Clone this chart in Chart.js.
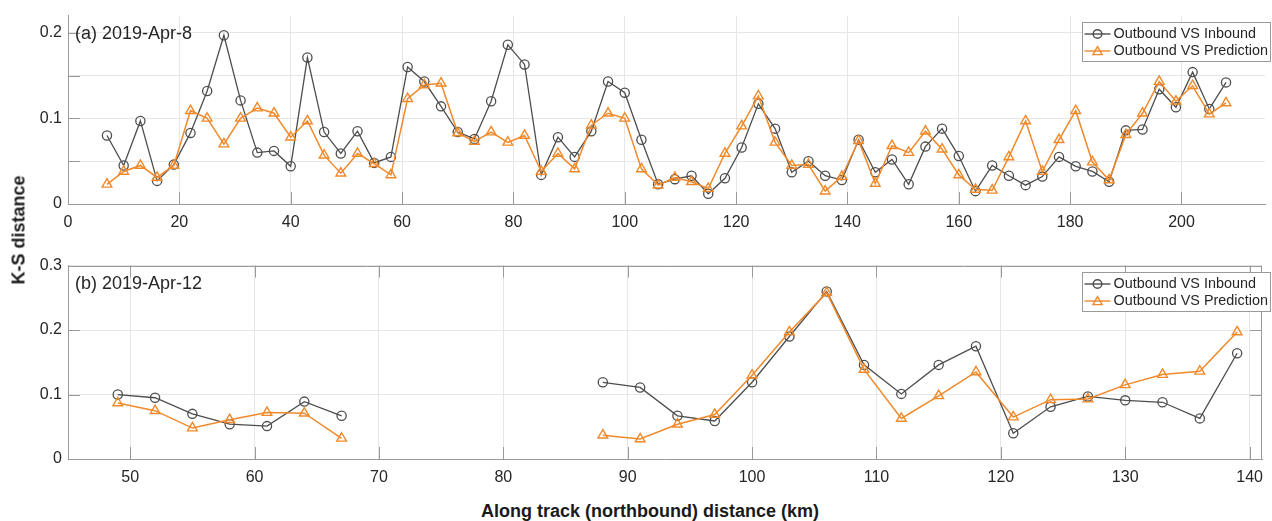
<!DOCTYPE html>
<html>
<head>
<meta charset="utf-8">
<script src="https://cdn.jsdelivr.net/npm/chart.js@4.4.1/dist/chart.umd.min.js"></script>
<style>
  html, body { margin: 0; padding: 0; background: #ffffff; }
  #wrap { position: relative; width: 1272px; height: 521px; overflow: hidden; font-family: "Liberation Sans", Arial, Helvetica, sans-serif; }
  canvas { position: absolute; left: 0; }
  #cA { top: 0; }
  #cB { top: 250px; }
  .ytitle { position: absolute; left: 19px; top: 230px; transform: translate(-50%, -50%) rotate(-90deg); font-weight: bold; font-size: 18px; color: #1a1a1a; white-space: nowrap; }
  .xtitle { position: absolute; left: 650px; top: 511px; transform: translate(-50%, -50%); font-weight: bold; font-size: 18px; color: #1a1a1a; white-space: nowrap; }
</style>
</head>
<body>
<div id="wrap">
  <canvas id="cA" width="1272" height="240"></canvas>
  <canvas id="cB" width="1272" height="245"></canvas>
  <div class="ytitle">K-S distance</div>
  <div class="xtitle">Along track (northbound) distance (km)</div>
</div>
<script>
// ---- Panel (a): 2019-Apr-8 ----
const distA = [7, 10, 13, 16, 19, 22, 25, 28, 31, 34, 37, 40, 43, 46, 49, 52, 55, 58, 61, 64,
  67, 70, 73, 76, 79, 82, 85, 88, 91, 94, 97, 100, 103, 106, 109, 112, 115, 118, 121, 124,
  127, 130, 133, 136, 139, 142, 145, 148, 151, 154, 157, 160, 163, 166, 169, 172, 175, 178, 181, 184,
  187, 190, 193, 196, 199, 202, 205, 208];
const inboundA = [0.080, 0.045, 0.097, 0.027, 0.046, 0.083, 0.132, 0.197, 0.121, 0.060,
  0.062, 0.044, 0.171, 0.084, 0.059, 0.085, 0.048, 0.055, 0.160, 0.143,
  0.114, 0.084, 0.076, 0.120, 0.186, 0.163, 0.034, 0.078, 0.055, 0.085,
  0.143, 0.130, 0.075, 0.023, 0.029, 0.033, 0.012, 0.030, 0.066, 0.117,
  0.088, 0.037, 0.050, 0.033, 0.028, 0.075, 0.037, 0.052, 0.023, 0.067,
  0.088, 0.056, 0.015, 0.045, 0.033, 0.022, 0.032, 0.055, 0.044, 0.038,
  0.026, 0.086, 0.087, 0.134, 0.113, 0.154, 0.111, 0.142];
const predictionA = [0.023, 0.038, 0.045, 0.031, 0.045, 0.109, 0.100, 0.070, 0.100, 0.112,
  0.106, 0.078, 0.097, 0.057, 0.036, 0.059, 0.047, 0.034, 0.123, 0.139,
  0.141, 0.083, 0.073, 0.084, 0.072, 0.080, 0.038, 0.059, 0.041, 0.092,
  0.106, 0.100, 0.041, 0.022, 0.031, 0.026, 0.018, 0.059, 0.091, 0.126,
  0.072, 0.045, 0.046, 0.015, 0.032, 0.074, 0.024, 0.068, 0.060, 0.085,
  0.064, 0.034, 0.017, 0.016, 0.055, 0.097, 0.038, 0.075, 0.109, 0.049,
  0.028, 0.081, 0.106, 0.143, 0.120, 0.138, 0.105, 0.118];

// ---- Panel (b): 2019-Apr-12 (no data between 70 and 85 km) ----
const distB = [49, 52, 55, 58, 61, 64, 67, 70, 73, 76, 79, 82, 85, 88, 91, 94, 97, 100,
  103, 106, 109, 112, 115, 118, 121, 124, 127, 130, 133, 136, 139];
const inboundB = [0.100, 0.095, 0.070, 0.054, 0.051, 0.089, 0.067,
  null, null, null, null, null, null,
  0.119, 0.111, 0.067, 0.059, 0.119, 0.190, 0.260, 0.146, 0.101, 0.146, 0.175,
  0.040, 0.081, 0.097, 0.091, 0.088, 0.063, 0.164];
const predictionB = [0.087, 0.075, 0.048, 0.061, 0.072, 0.071, 0.032,
  null, null, null, null, null, null,
  0.037, 0.031, 0.054, 0.069, 0.130, 0.197, 0.258, 0.139, 0.063, 0.098, 0.135,
  0.065, 0.092, 0.093, 0.115, 0.131, 0.136, 0.197];

const seriesNames = ['Outbound VS Inbound', 'Outbound VS Prediction'];
const panelTitles = ['(a) 2019-Apr-8', '(b) 2019-Apr-12'];

const FONT = '"Liberation Sans", Arial, Helvetica, sans-serif';
const GRAY = '#4d4d4d';
const ORANGE = '#f0892a';
const GRID = '#e6e6e6';
const AXIS = '#9a9a9a';
const TEXT = '#262626';
const TICK_LEN = 12;

function pts(xs, ys) { return xs.map((x, i) => ({ x: x, y: ys[i] })); }

function drawCircle(ctx, x, y, r) {
  ctx.beginPath(); ctx.arc(x, y, r, 0, Math.PI * 2); ctx.stroke();
}
function drawTriangle(ctx, x, y, r) {
  ctx.beginPath();
  for (let k = 0; k < 3; k++) {
    const a = k * 2 * Math.PI / 3;
    const px = x + Math.sin(a) * r, py = y - Math.cos(a) * r;
    if (k === 0) ctx.moveTo(px, py); else ctx.lineTo(px, py);
  }
  ctx.closePath(); ctx.stroke();
}

// Inward tick marks, optional box, panel label and legend box
const decorPlugin = {
  id: 'decor',
  afterDraw(chart, args, opts) {
    const ctx = chart.ctx;
    const a = chart.chartArea;
    const xs = chart.scales.x, ys = chart.scales.y;
    ctx.save();
    ctx.strokeStyle = AXIS;
    ctx.lineWidth = 1;
    if (opts.box) {
      ctx.beginPath();
      ctx.moveTo(a.left, Math.round(a.top) + 0.5); ctx.lineTo(a.right, Math.round(a.top) + 0.5);
      ctx.moveTo(Math.round(a.right) - 0.5, a.top); ctx.lineTo(Math.round(a.right) - 0.5, a.bottom);
      ctx.stroke();
    }
    ctx.beginPath();
    xs.ticks.forEach(t => {
      const px = Math.round(xs.getPixelForValue(t.value)) + 0.5;
      ctx.moveTo(px, a.bottom); ctx.lineTo(px, a.bottom - TICK_LEN);
      if (opts.box) { ctx.moveTo(px, a.top); ctx.lineTo(px, a.top + TICK_LEN); }
    });
    ys.ticks.forEach(t => {
      const py = Math.round(ys.getPixelForValue(t.value)) + 0.5;
      ctx.moveTo(a.left, py); ctx.lineTo(a.left + TICK_LEN, py);
      if (opts.box) { ctx.moveTo(a.right, py); ctx.lineTo(a.right - TICK_LEN, py); }
    });
    ctx.stroke();

    // panel label
    ctx.fillStyle = TEXT;
    ctx.font = '18px ' + FONT;
    ctx.textBaseline = 'middle';
    ctx.textAlign = 'left';
    ctx.fillText(opts.title, a.left + 7, a.top + 18);

    // legend
    const bx = 1082.5, by = Math.round(a.top + 6) + 0.5, bw = 188, bh = 39;
    ctx.fillStyle = '#ffffff';
    ctx.fillRect(bx, by, bw, bh);
    ctx.strokeStyle = AXIS;
    ctx.strokeRect(bx, by, bw, bh);
    const rows = [
      { name: seriesNames[0], color: GRAY, mark: 'c', y: by + 11.5 },
      { name: seriesNames[1], color: ORANGE, mark: 't', y: by + 28.5 }
    ];
    ctx.font = '14.4px ' + FONT;
    rows.forEach(r => {
      ctx.strokeStyle = r.color;
      ctx.lineWidth = 1.4;
      ctx.beginPath(); ctx.moveTo(bx + 2, r.y); ctx.lineTo(bx + 28, r.y); ctx.stroke();
      if (r.mark === 'c') drawCircle(ctx, bx + 15, r.y, 4.3);
      else drawTriangle(ctx, bx + 15, r.y + 1, 5.3);
      ctx.fillStyle = TEXT;
      ctx.fillText(r.name, bx + 31, r.y + 0.5);
    });
    ctx.restore();
  }
};

function makePanel(canvasId, cfg) {
  const tickFont = { family: FONT, size: 16 };
  return new Chart(document.getElementById(canvasId), {
    type: 'line',
    data: {
      datasets: [
        {
          label: seriesNames[0],
          data: pts(cfg.dist, cfg.inbound),
          borderColor: GRAY, borderWidth: 1.3,
          pointStyle: 'circle', pointRadius: 4.6, pointBorderWidth: 1.3,
          pointBorderColor: GRAY, pointBackgroundColor: 'rgba(0,0,0,0)',
          spanGaps: false, tension: 0, order: 1
        },
        {
          label: seriesNames[1],
          data: pts(cfg.dist, cfg.prediction),
          borderColor: ORANGE, borderWidth: 1.5,
          pointStyle: 'triangle', pointRadius: 5.6, pointBorderWidth: 1.4,
          pointBorderColor: ORANGE, pointBackgroundColor: 'rgba(0,0,0,0)',
          spanGaps: false, tension: 0, order: 0
        }
      ]
    },
    options: {
      responsive: false,
      animation: false,
      devicePixelRatio: 1,
      layout: { padding: { top: cfg.padTop, right: 1, left: 0, bottom: 0 } },
      plugins: {
        legend: { display: false },
        tooltip: { enabled: false },
        decor: { title: cfg.title, box: cfg.box }
      },
      scales: {
        x: {
          type: 'linear', min: cfg.xMin, max: cfg.xMax,
          grid: { color: GRID, drawTicks: false, lineWidth: 1 },
          border: { display: true, color: AXIS, width: 1 },
          ticks: { stepSize: cfg.xStep, includeBounds: false, padding: 9, color: TEXT, font: tickFont, maxRotation: 0, autoSkip: false },
          afterFit(scale) { scale.height = 36; }
        },
        y: {
          type: 'linear', min: 0, max: cfg.yMax,
          grid: { color: GRID, drawTicks: false, lineWidth: 1 },
          border: { display: true, color: AXIS, width: 1 },
          ticks: {
            stepSize: cfg.yStep, includeBounds: false, padding: 6, color: TEXT, font: tickFont,
            callback(v) {
              const t = v * 10;
              if (Math.abs(t - Math.round(t)) > 1e-6) return '';
              return String(Math.round(t) / 10);
            }
          },
          afterFit(scale) { scale.width = 68; }
        }
      }
    },
    plugins: [decorPlugin]
  });
}

makePanel('cA', {
  dist: distA, inbound: inboundA, prediction: predictionA,
  xMin: 0, xMax: 215, xStep: 20, yMax: 0.22, yStep: 0.05,
  padTop: 9, title: panelTitles[0], box: false
});
makePanel('cB', {
  dist: distB, inbound: inboundB, prediction: predictionB,
  xMin: 45, xMax: 141, xStep: 10, yMax: 0.3, yStep: 0.1,
  padTop: 14, title: panelTitles[1], box: true
});
</script>
</body>
</html>
